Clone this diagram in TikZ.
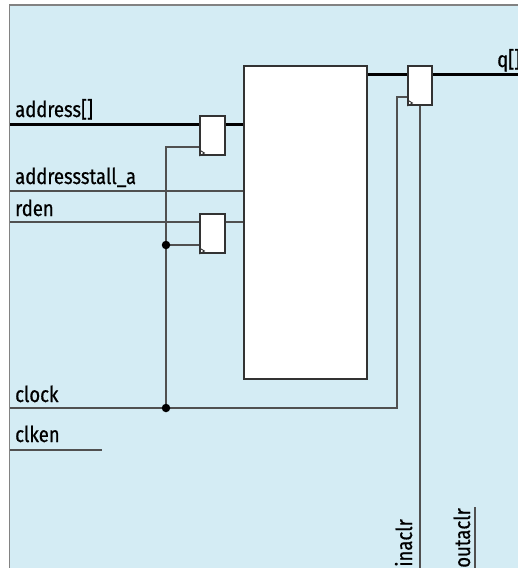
\documentclass[tikz,border=0pt]{standalone}
\usepackage{fontspec}
\setmainfont[FakeStretch=0.84,FakeBold=0.6]{Fira Sans}
\definecolor{bgblue}{RGB}{212,236,244}
\definecolor{wire}{RGB}{80,80,80}
\definecolor{frame}{RGB}{130,130,130}
\begin{document}
\begin{tikzpicture}[x=1pt,y=-1pt,
  wirel/.style={draw=wire,line width=1.2pt},
  bus/.style={draw=black,line width=3pt},
  regbox/.style={draw=black!80,fill=white,line width=1.2pt,minimum width=25pt,minimum height=39pt,inner sep=0pt},
  blockbox/.style={draw=black!80,fill=white,line width=1.2pt,minimum width=123pt,minimum height=313pt,inner sep=0pt},
  lbl/.style={font=\fontsize{22}{24}\selectfont,inner sep=0pt,text=black},
  dotc/.style={fill=black,circle,inner sep=0pt,minimum size=8.5pt},
  clktri/.style={draw=black!80,line width=0.9pt}]
\useasboundingbox (0,0) rectangle (518,568);
\clip (0,0) rectangle (518,568);
\draw[fill=bgblue,draw=frame,line width=1.5pt] (9.5,5) rectangle (540,600);

% blocks
\node[blockbox] (blk) at (305.5,222.5) {};
\node[regbox] (r1) at (212.5,135.5) {};
\node[regbox] (r2) at (212.5,233.5) {};
\node[regbox,minimum width=24pt] (ro) at (420,85.5) {};

% coordinates
\coordinate (addrin) at (10,124);
\coordinate (stallin) at (10,191);
\coordinate (rdenin) at (10,222);
\coordinate (clkin) at (10,408);
\coordinate (clkenin) at (10,450);
\coordinate (clkenend) at (102,450);
\coordinate (qout) at (518,74);
\coordinate (inaclrend) at (420,568);
\coordinate (outaclrtop) at (475,507);
\coordinate (outaclrend) at (475,568);
\coordinate (c1) at (166,147);
\coordinate (c2) at (166,245);
\coordinate (cdot) at (166,408);
\coordinate (cturn) at (397,408);
\coordinate (co) at (397,97);

% address bus
\draw[bus] (addrin) -- (addrin -| r1.west);
\draw[bus] (addrin -| r1.east) -- (addrin -| blk.west);
% addressstall
\draw[wirel] (stallin) -- (stallin -| blk.west);
% rden
\draw[wirel] (rdenin) -- (rdenin -| r2.west);
\draw[wirel] (rdenin -| r2.east) -- (rdenin -| blk.west);
% clock
\draw[wirel] (clkin) -- (cturn) -- (co) -- (co -| ro.west);
\draw[wirel] (cdot) -- (c1) -- (c1 -| r1.west);
\draw[wirel] (c2) -- (c2 -| r2.west);
\node[dotc] (d1) at (c2) {};
\node[dotc] (d2) at (cdot) {};
% clken
\draw[wirel] (clkenin) -- (clkenend);
% q bus
\draw[bus] (qout -| blk.east) -- (qout -| ro.west);
\draw[bus] (qout -| ro.east) -- (qout);
% aclr
\draw[wirel] (ro.south) -- (inaclrend);
\draw[wirel] (outaclrtop) -- (outaclrend);

% clock triangles
\foreach \r/\yy in {r1/147,r2/245,ro/97}{
  \draw[clktri] ([yshift=-3pt]\r.west |- 0,\yy) -- ++(5,3) -- ++(-5,3);
}

% labels
\node[lbl,anchor=base west] (laddr) at (15,117) {address[]};
\node[lbl,anchor=base west] (lstall) at (15,184) {addressstall\_a};
\node[lbl,anchor=base west] (lrden) at (15,216) {rden};
\node[lbl,anchor=base west] (lclk) at (15,402) {clock};
\node[lbl,anchor=base west] (lclken) at (15,442) {clken};
\node[lbl,anchor=base west] (lq) at (497,67) {q[]};
\node[lbl,anchor=base east,rotate=90] (linaclr) at (412,519) {inaclr};
\node[lbl,anchor=base east,rotate=90] (loutaclr) at (470,508) {outaclr};
\end{tikzpicture}
\end{document}
